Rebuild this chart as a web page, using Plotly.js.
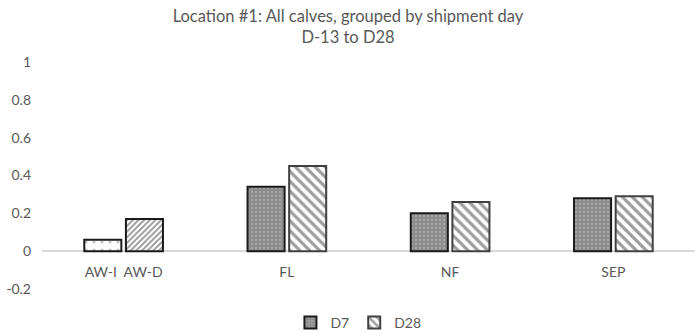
<!DOCTYPE html>
<html>
<head>
<meta charset="utf-8">
<script src="https://cdn.plot.ly/plotly-3.0.1.min.js"></script>
<style>html,body{margin:0;padding:0;background:#fff;}#chart{width:696px;height:334px;}</style>
</head>
<body>
<div id="chart"></div>
<script>
var categories = ["AW-I\u00a0 AW-D", "FL", "NF", "SEP"];
var seriesNames = ["D7", "D28"];
var d7 = [0.06, 0.34, 0.20, 0.28];
var d28 = [0.17, 0.45, 0.26, 0.29];
var yTicks = [-0.2, 0, 0.2, 0.4, 0.6, 0.8, 1];
var yTickLabels = ["-0.2", "0", "0.2", "0.4", "0.6", "0.8", "1"];

var txt = '#595959';
function mk(x, y, name, og, showlegend, pattern, lineColor) {
  return {
    type: 'bar', x: x, y: y, name: name, offsetgroup: og, legendgroup: og,
    showlegend: showlegend, hoverinfo: 'none',
    marker: { color: pattern.bgcolor, line: { color: lineColor, width: 2 }, pattern: pattern }
  };
}
var pD7 = { shape: '.', bgcolor: '#8c8c8c', fgcolor: '#c8c8c8', size: 4, solidity: 0.25, fillmode: 'overlay' };
var pD28 = { shape: '\\', bgcolor: '#ffffff', fgcolor: '#3a3a3a', size: 7, solidity: 0.45, fillmode: 'overlay' };
var pAWI = { shape: '.', bgcolor: '#ffffff', fgcolor: '#7f7f7f', size: 8, solidity: 0.12, fillmode: 'overlay' };
var pAWD = { shape: '/', bgcolor: '#ffffff', fgcolor: '#262626', size: 4, solidity: 0.45, fillmode: 'overlay' };

var data = [
  mk(categories.slice(1), d7.slice(1), seriesNames[0], 'D7', true, pD7, '#1a1a1a'),
  mk(categories.slice(1), d28.slice(1), seriesNames[1], 'D28', true, pD28, '#404040'),
  mk(categories.slice(0, 1), d7.slice(0, 1), seriesNames[0], 'D7', false, pAWI, '#1a1a1a'),
  mk(categories.slice(0, 1), d28.slice(0, 1), seriesNames[1], 'D28', false, pAWD, '#1a1a1a')
];

var layout = {
  width: 696, height: 334,
  margin: { l: 42, r: 1, t: 62, b: 45 },
  paper_bgcolor: '#ffffff', plot_bgcolor: '#ffffff',
  font: { family: 'Lato, "Open Sans", sans-serif', color: txt, size: 14 },
  title: {
    text: 'Location #1: All calves, grouped by shipment day<br>D-13 to D28',
    font: { size: 16.5, color: txt, family: 'Lato, "Open Sans", sans-serif' },
    x: 0.5, xref: 'container', xanchor: 'center',
    y: 1 - 22 / 334, yref: 'container', yanchor: 'middle'
  },
  barmode: 'group', bargap: 0.49, bargroupgap: 0.11,
  xaxis: {
    type: 'category', categoryorder: 'array', categoryarray: categories,
    anchor: 'free', position: 37.7 / 227,
    showline: false, showgrid: false, zeroline: false, ticks: '',
    tickfont: { size: 14, color: txt }, ticklabelstandoff: 11
  },
  yaxis: {
    range: [-0.2, 1], tickvals: yTicks, ticktext: yTickLabels,
    showgrid: false, showline: false, zeroline: true, zerolinecolor: '#d9d9d9', zerolinewidth: 1.5,
    ticks: '', tickfont: { size: 14, color: txt }, ticklabelstandoff: 10
  },
  legend: {
    orientation: 'h', x: 0.515, xref: 'container', xanchor: 'center',
    y: 0.033, yref: 'container', yanchor: 'middle',
    font: { size: 14, color: txt }, itemwidth: 30, tracegroupgap: 0
  },
  showlegend: true
};

Plotly.newPlot('chart', data, layout, { displayModeBar: false, staticPlot: true });
</script>
</body>
</html>
